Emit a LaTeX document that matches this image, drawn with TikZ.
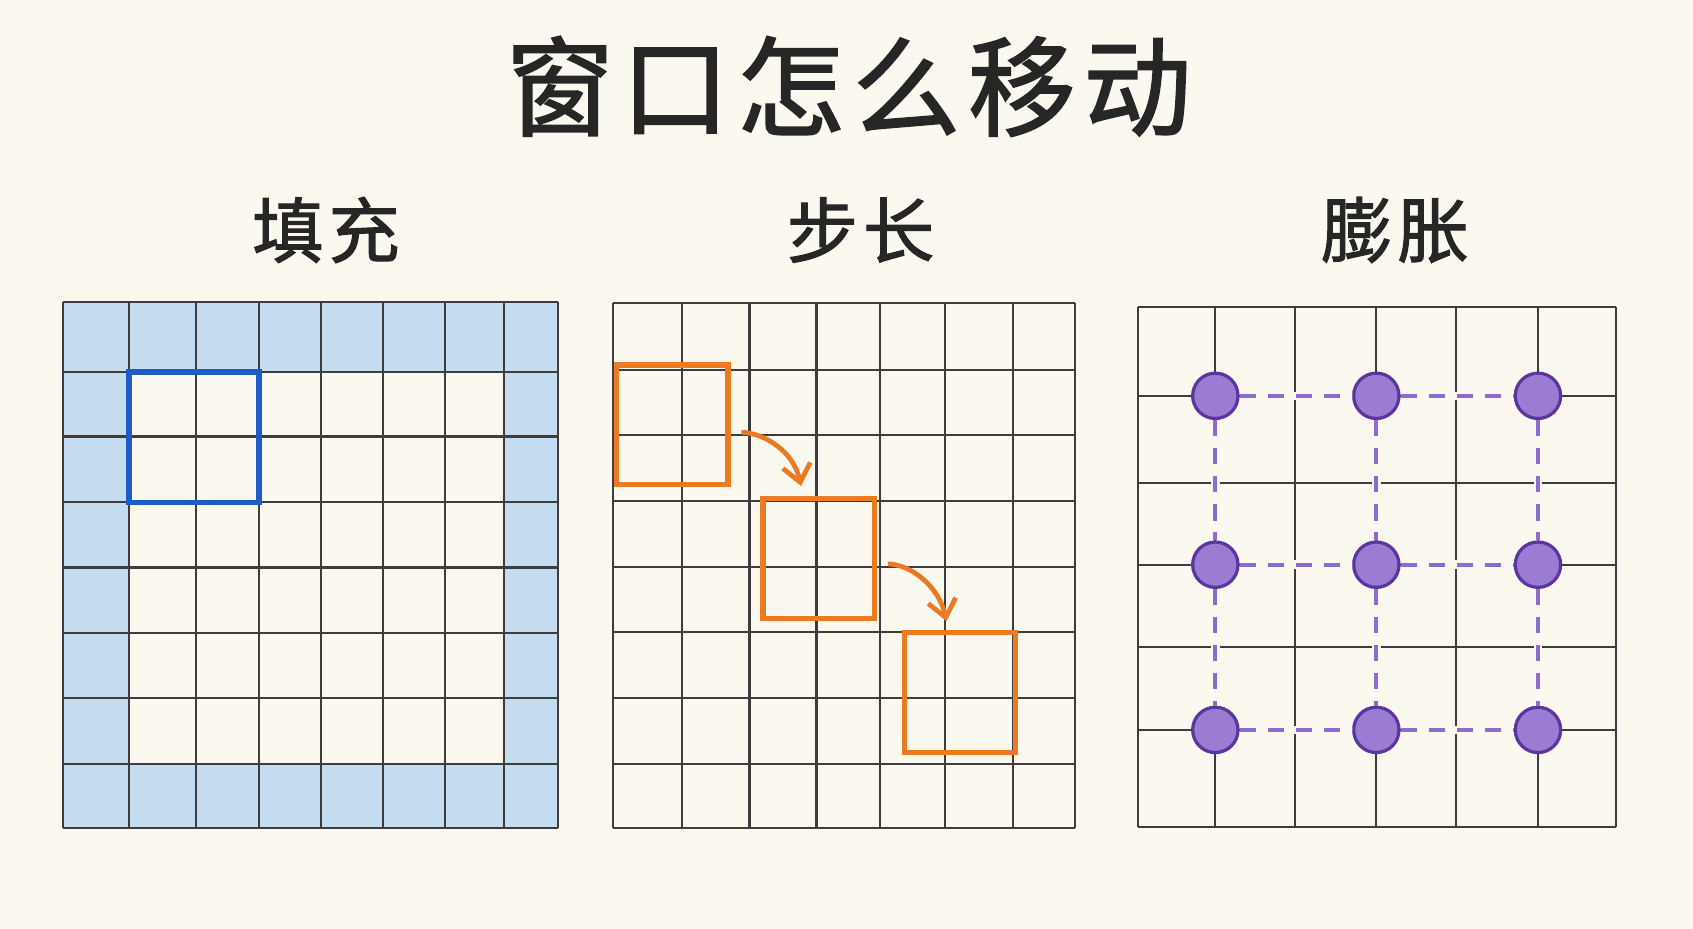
\documentclass[tikz,border=0pt]{standalone}
\usepackage{fontspec}
\newfontfamily\cjk{Noto Sans CJK SC}[LetterSpace=7, FakeBold=1.6]
\usetikzlibrary{arrows.meta,calc}
\definecolor{paper}{HTML}{FBF8EF}
\definecolor{gridc}{HTML}{3D3D3D}
\definecolor{bluefillc}{HTML}{C6DCF1}
\definecolor{bluewinc}{HTML}{1F5BC6}
\definecolor{orangec}{HTML}{EC7A22}
\definecolor{purplefill}{HTML}{9A7DD3}
\definecolor{purpleedge}{HTML}{5B36A0}
\definecolor{purpledash}{HTML}{8E6CCF}
\tikzset{
  gridline/.style={draw=gridc, line width=1pt},
  titletext/.style={font=\cjk\fontsize{50pt}{50pt}\selectfont, text=black!85, inner sep=0pt},
  subtext/.style={font=\cjk\fontsize{33pt}{33pt}\selectfont, text=black!85, inner sep=0pt},
  bluewin/.style={draw=bluewinc, line width=2.6pt},
  orwin/.style={draw=orangec, line width=2.6pt, minimum width=51.5pt, minimum height=55.5pt, inner sep=0pt},
  orarrow/.style={draw=orangec, line width=2.2pt, -{Straight Barb[length=8pt,width=13pt]}},
  dot/.style={circle, fill=purplefill, draw=purpleedge, line width=1.5pt, minimum size=21pt, inner sep=0pt},
  erase/.style={draw=paper, line width=4pt},
  dashlink/.style={draw=purpledash, line width=1.8pt, dash pattern=on 7.5pt off 5.5pt},
}
\begin{document}
\begin{tikzpicture}[x=0.5pt,y=-0.5pt]
\fill[paper] (0,0) rectangle (1568,860);
\useasboundingbox (0,0) rectangle (1568,860);

% titles
\node[titletext] (title) at (786,80) {窗口怎么移动};
\node[subtext] (t1) at (302,213) {填充};
\node[subtext] (t2) at (797,213) {步长};
\node[subtext] (t3) at (1292,213) {膨胀};

% ---------- grid 1 : padding ----------
\fill[bluefillc, even odd rule] (58,280) rectangle (517,767) (119.6,344.3) rectangle (467,707.6);
\foreach \x in {58,119.6,181.9,240,297,354.4,411.8,467,517}
  \draw[gridline] (\x,280) -- (\x,767);
\foreach \y in {280,344.3,404.3,465.3,525.6,586,646.6,707.6,767}
  \draw[gridline] (58,\y) -- (517,\y);
\draw[bluewin] (119.6,344.3) rectangle (240,465.3);

% ---------- grid 2 : stride ----------
\foreach \x in {568,631.9,694.2,756.2,814.9,875,938,996}
  \draw[gridline] (\x,281) -- (\x,767);
\foreach \y in {281,342.9,403,464.3,524.8,585.4,646.2,707.4,767}
  \draw[gridline] (568,\y) -- (996,\y);
\node[orwin] (w1) at (622.5,393.3) {};
\node[orwin] (w2) at (758.4,517.2) {};
\node[orwin] (w3) at (889.1,641.4) {};
\draw[orarrow] ($(w1.east)+(10,7)$) .. controls +(22,1) and +(-7,-32) .. ($(w2.north)+(-16.5,-9)$);
\draw[orarrow] ($(w2.east)+(10,5)$) .. controls +(22,1) and +(-7,-32) .. ($(w3.north)+(-12.5,-8)$);

% ---------- grid 3 : dilation ----------
\foreach \x in {1054,1125.6,1199.7,1274.7,1348.8,1424.4,1497}
  \draw[gridline] (\x,284) -- (\x,766);
\foreach \y in {284,366.6,447,523,599,676,766}
  \draw[gridline] (1054,\y) -- (1497,\y);
\foreach \c/\x in {1/1125.6,2/1274.7,3/1424.4}
  \foreach \r/\y in {1/366.6,2/523,3/676}
    \node[dot] (d\r\c) at (\x,\y) {};
\foreach \a/\b in {d11/d12,d12/d13,d21/d22,d22/d23,d31/d32,d32/d33,
                   d11/d21,d21/d31,d12/d22,d22/d32,d13/d23,d23/d33}{
  \draw[erase] (\a) -- (\b);
  \draw[dashlink] (\a) -- (\b);
}
\end{tikzpicture}
\end{document}
